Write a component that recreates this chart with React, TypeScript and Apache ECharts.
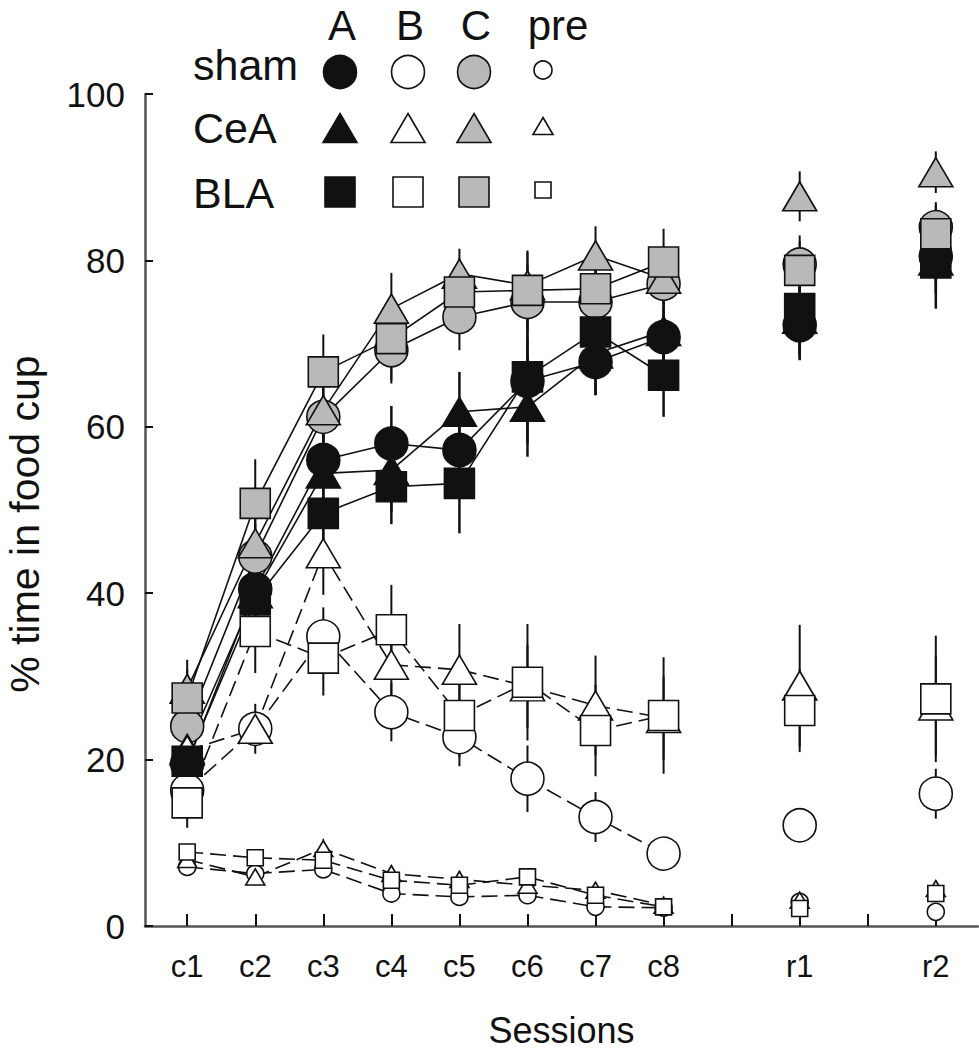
import React, { useEffect, useRef } from "react";
import * as echarts from "echarts";

// ---- data ----
const sessions = ["c1", "c2", "c3", "c4", "c5", "c6", "c7", "c8", "r1", "r2"];
const sessionPos = [1, 2, 3, 4, 5, 6, 7, 8, 10, 12];
const tickPos = [1, 2, 3, 4, 5, 6, 7, 8, 9, 10, 11, 12];
const yTicks = [0, 20, 40, 60, 80, 100];
const conditioningCount = 8; // c1..c8 are joined by lines

const shamA = [19.5, 40.5, 56.0, 58.0, 57.2, 65.5, 67.8, 70.8, 72.2, 80.5];
const shamB = [16.3, 23.7, 34.8, 25.7, 22.7, 17.7, 13.1, 8.7, 12.1, 15.9];
const shamC = [24.0, 44.4, 61.2, 69.2, 73.2, 75.0, 75.0, 77.2, 79.5, 84.0];
const shamPre = [7.1, 6.3, 6.8, 3.9, 3.5, 3.7, 2.3, 2.2, 2.9, 1.7];
const ceaA = [21.3, 40.0, 54.4, 54.8, 61.8, 62.4, 68.8, 71.5, 73.0, 80.0];
const ceaB = [21.1, 23.7, 44.8, 31.4, 30.8, 28.8, 26.5, 25.0, 28.9, 26.5];
const ceaC = [28.5, 46.0, 62.0, 74.2, 78.4, 77.0, 80.6, 77.8, 87.7, 90.6];
const ceaPre = [8.0, 5.9, 9.3, 6.3, 5.6, 4.9, 4.3, 2.5, 3.1, 4.5];
const blaA = [19.8, 39.2, 49.6, 52.8, 53.2, 66.0, 71.4, 66.2, 74.2, 79.7];
const blaB = [14.8, 35.4, 32.2, 35.6, 25.3, 29.3, 23.5, 25.3, 25.9, 27.3];
const blaC = [27.4, 50.8, 66.6, 70.6, 76.2, 76.4, 76.6, 79.8, 78.8, 83.2];
const blaPre = [8.9, 8.2, 7.9, 5.5, 4.9, 5.9, 3.7, 2.3, 2.1, 3.9];

const shamAErr = [2, 3, 3, 4.5, 4, 5, 4, 3.5, 3.5, 3];
const shamBErr = [2.5, 2, 3.5, 3.5, 3.5, 4, 3, 2, 2, 3];
const shamCErr = [3, 4, 4, 4, 4, 4.5, 4, 3, 3.5, 3];
const shamPreErr = [1, 1, 1, 1, 1, 1, 1, 0.8, 0.8, 0.8];
const ceaAErr = [2.5, 4, 5, 5, 4.8, 6, 5, 4, 5, 4];
const ceaBErr = [3, 3, 5, 4, 5.5, 5, 6, 5, 7.3, 6];
const ceaCErr = [3.5, 5, 4.5, 4.3, 3, 4, 3.5, 3, 3, 2.5];
const ceaPreErr = [1, 1, 1.2, 1, 1, 1, 1, 0.8, 0.8, 1];
const blaAErr = [2.5, 4, 4.5, 4.5, 6, 8, 5, 5, 6, 5.5];
const blaBErr = [3, 5, 4.5, 5.4, 5, 7, 5.5, 7, 5, 7.6];
const blaCErr = [3.5, 5.3, 4.5, 5, 4, 4.8, 4, 4, 3.5, 3.5];
const blaPreErr = [1, 1, 1, 1, 1, 1, 1, 0.8, 0.8, 1];

const groups = ["sham", "CeA", "BLA"];
const conditions = ["A", "B", "C", "pre"];

const FONT = "'Liberation Sans', Arial, Helvetica, sans-serif";
const BLACK = "#111111";
const GRAY = "#b9b9b9";
const WHITE = "#ffffff";

type Def = {
  name: string;
  values: number[];
  errors: number[];
  symbol: string;
  size: number | number[];
  fill: string;
  dashed: boolean;
  barWidth: number;
};

const circleBig = 33;
const triBig = [34, 29];
const rectBig = 30;
const circleSmall = 17;
const triSmall = [19, 16];
const rectSmall = 16;

const defs: Def[] = [
  { name: "sham A", values: shamA, errors: shamAErr, symbol: "circle", size: circleBig, fill: BLACK, dashed: false, barWidth: 2.5 },
  { name: "sham B", values: shamB, errors: shamBErr, symbol: "circle", size: circleBig, fill: WHITE, dashed: true, barWidth: 2 },
  { name: "sham C", values: shamC, errors: shamCErr, symbol: "circle", size: circleBig, fill: GRAY, dashed: false, barWidth: 2 },
  { name: "sham pre", values: shamPre, errors: shamPreErr, symbol: "circle", size: circleSmall, fill: WHITE, dashed: true, barWidth: 1.5 },
  { name: "CeA A", values: ceaA, errors: ceaAErr, symbol: "triangle", size: triBig, fill: BLACK, dashed: false, barWidth: 2.5 },
  { name: "CeA B", values: ceaB, errors: ceaBErr, symbol: "triangle", size: triBig, fill: WHITE, dashed: true, barWidth: 2 },
  { name: "CeA C", values: ceaC, errors: ceaCErr, symbol: "triangle", size: triBig, fill: GRAY, dashed: false, barWidth: 2 },
  { name: "CeA pre", values: ceaPre, errors: ceaPreErr, symbol: "triangle", size: triSmall, fill: WHITE, dashed: true, barWidth: 1.5 },
  { name: "BLA A", values: blaA, errors: blaAErr, symbol: "rect", size: rectBig, fill: BLACK, dashed: false, barWidth: 2.5 },
  { name: "BLA B", values: blaB, errors: blaBErr, symbol: "rect", size: rectBig, fill: WHITE, dashed: true, barWidth: 2 },
  { name: "BLA C", values: blaC, errors: blaCErr, symbol: "rect", size: rectBig, fill: GRAY, dashed: false, barWidth: 2 },
  { name: "BLA pre", values: blaPre, errors: blaPreErr, symbol: "rect", size: rectSmall, fill: WHITE, dashed: true, barWidth: 1.5 },
];

function buildOption() {
  const lineSeries: any[] = defs.map((d) => ({
    name: d.name + " line",
    type: "line",
    z: 2,
    silent: true,
    showSymbol: false,
    symbol: "none",
    data: d.values.slice(0, conditioningCount).map((v, i) => [sessionPos[i], v]),
    lineStyle: { color: BLACK, width: 1.6, type: d.dashed ? [16, 7] : "solid" },
  }));

  const errSeries: any[] = defs.map((d) => ({
    name: d.name + " sem",
    type: "custom",
    z: 3,
    silent: true,
    encode: { x: 0, y: 1 },
    data: d.values.map((v, i) => [sessionPos[i], v, d.errors[i]]),
    renderItem: (params: any, api: any) => {
      const x = api.value(0);
      const y = api.value(1);
      const e = api.value(2);
      const p1 = api.coord([x, y - e]);
      const p2 = api.coord([x, y + e]);
      return {
        type: "line",
        shape: { x1: p1[0], y1: p1[1], x2: p2[0], y2: p2[1] },
        style: { stroke: BLACK, lineWidth: d.barWidth },
      };
    },
  }));

  const markerSeries: any[] = defs.map((d, k) => ({
    name: d.name,
    type: "scatter",
    z: 4 + k * 0.01,
    symbol: d.symbol,
    symbolSize: d.size,
    data: d.values.map((v, i) => [sessionPos[i], v]),
    itemStyle: { color: d.fill, borderColor: BLACK, borderWidth: 1.6, opacity: 1 },
  }));

  // legend table drawn as graphics
  const colX = [340, 408, 474, 543];
  const rowY = [72, 128, 192];
  const legendGraphics: any[] = [];
  conditions.forEach((c, j) => {
    legendGraphics.push({
      type: "text",
      x: j === 3 ? 558 : colX[j] + 2,
      y: 25,
      style: {
        text: c,
        font: `42px ${FONT}`,
        fill: BLACK,
        align: "center",
        verticalAlign: "middle",
      },
    });
  });
  const rowTextY = [65, 128, 193];
  groups.forEach((g, i) => {
    legendGraphics.push({
      type: "text",
      x: 193,
      y: rowTextY[i],
      style: { text: g, font: `43px ${FONT}`, fill: BLACK, align: "left", verticalAlign: "middle" },
    });
  });
  const fills = [BLACK, WHITE, GRAY, WHITE];
  groups.forEach((g, i) => {
    conditions.forEach((c, j) => {
      const small = j === 3;
      const cx = colX[j];
      const cy = small ? rowY[i] - 2 : rowY[i];
      const style = { fill: fills[j], stroke: BLACK, lineWidth: 1.6 };
      if (i === 0) {
        legendGraphics.push({ type: "circle", shape: { cx, cy, r: small ? 9 : 16.5 }, style });
      } else if (i === 1) {
        const w = small ? 10 : 17;
        const h = small ? 8.5 : 14.5;
        legendGraphics.push({
          type: "polygon",
          shape: { points: [[cx, cy - h], [cx + w, cy + h], [cx - w, cy + h]] },
          style,
        });
      } else {
        const s = small ? 8 : 15;
        legendGraphics.push({ type: "rect", shape: { x: cx - s, y: cy - s, width: 2 * s, height: 2 * s }, style });
      }
    });
  });

  return {
    animation: false,
    backgroundColor: "#ffffff",
    textStyle: { fontFamily: FONT },
    grid: { left: 145, right: 1, top: 94, bottom: 124, containLabel: false, outerBoundsMode: "none" },
    xAxis: {
      type: "value",
      min: 0.38,
      max: 12.62,
      name: "Sessions",
      nameLocation: "middle",
      nameGap: 86,
      nameTextStyle: { fontSize: 36, color: BLACK, fontFamily: FONT },
      splitLine: { show: false },
      axisLine: { show: true, onZero: false, lineStyle: { color: "#555555", width: 2.5 } },
      axisTick: { show: true, inside: true, length: 12, customValues: tickPos, lineStyle: { color: BLACK, width: 2 } },
      axisLabel: {
        show: true,
        margin: 25,
        fontSize: 31,
        color: BLACK,
        fontFamily: FONT,
        customValues: sessionPos,
        formatter: (v: number) => {
          const idx = sessionPos.indexOf(Math.round(v));
          return idx >= 0 ? sessions[idx] : "";
        },
      },
    },
    yAxis: {
      type: "value",
      min: 0,
      max: 100,
      interval: 20,
      name: "% time in food cup",
      nameLocation: "middle",
      nameRotate: 90,
      nameGap: 100,
      nameTextStyle: { fontSize: 41, color: BLACK, fontFamily: FONT, padding: [0, 28, 0, 0] },
      splitLine: { show: false },
      axisLine: { show: true, lineStyle: { color: "#555555", width: 2.5 } },
      axisTick: { show: true, inside: true, length: 8, lineStyle: { color: BLACK, width: 2 } },
      axisLabel: {
        margin: 20,
        fontSize: 35,
        color: BLACK,
        fontFamily: FONT,
        customValues: yTicks,
      },
    },
    graphic: legendGraphics,
    series: [...lineSeries, ...errSeries, ...markerSeries],
  };
}

export default function App() {
  const ref = useRef<HTMLDivElement>(null);
  useEffect(() => {
    if (!ref.current) return;
    const chart = echarts.init(ref.current, undefined, { renderer: "svg" });
    chart.setOption(buildOption() as any);
    return () => chart.dispose();
  }, []);
  return (
    <div
      ref={ref}
      style={{ position: "absolute", left: 0, top: 0, width: 979, height: 1050, background: "#fff" }}
    />
  );
}
